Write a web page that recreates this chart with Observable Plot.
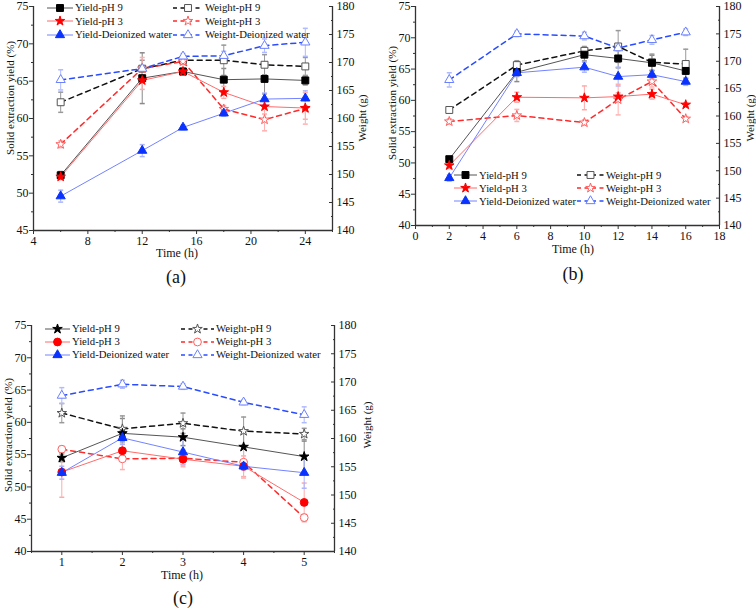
<!DOCTYPE html>
<html><head><meta charset="utf-8">
<script src="https://cdn.jsdelivr.net/npm/d3@7"></script>
<script src="https://cdn.jsdelivr.net/npm/@observablehq/plot@0.6"></script>
<style>
body{margin:0;background:#fff;}
#root{position:relative;width:756px;height:610px;font-family:"Liberation Serif","Times New Roman",serif;color:#111;overflow:hidden;}
.pl{position:absolute;}
.lbl{position:absolute;white-space:nowrap;transform:translate(-50%,-50%);line-height:1;}
.rot{transform:translate(-50%,-50%) rotate(-90deg);}
.leg{position:absolute;white-space:nowrap;font-size:10.7px;line-height:1;display:flex;align-items:center;transform:translateY(-50%);}
.leg svg{display:block;margin-right:2px;}
</style></head><body><div id="root"></div>
<script>
// ---------- shared ----------
const weightDomain = [140, 180];
const weightTicks = [140, 145, 150, 155, 160, 165, 170, 175, 180];
const weightMinor = [142.5, 147.5, 152.5, 157.5, 162.5, 167.5, 172.5, 177.5];
const seriesNames = ["Yield-pH 9", "Yield-pH 3", "Yield-Deionized water", "Weight-pH 9", "Weight-pH 3", "Weight-Deionized water"];

// ---------- panel (a) ----------
const timeA = [6, 12, 15, 18, 21, 24];
const yieldPH9A = [52.4, 65.4, 66.3, 65.2, 65.3, 65.1];
const yieldPH9AErr = [0.5, 3.4, 0.5, 1.5, 2.0, 0.6];
const yieldPH3A = [52.2, 65.1, 66.3, 63.5, 61.6, 61.4];
const yieldPH3AErr = [0.4, 1.2, 0.5, 0.8, 1.0, 1.5];
const yieldDIA = [49.6, 55.7, 58.8, 60.7, 62.6, 62.7];
const yieldDIAErr = [0.8, 0.8, 0.3, 0.4, 0.8, 1.0];
const weightPH9A = [162.9, 168.9, 170.4, 170.4, 169.6, 169.3];
const weightPH9AErr = [1.8, 1.5, 0.5, 2.7, 1.8, 1.6];
const weightPH3A = [155.4, 168.9, 170.2, 161.7, 159.8, 161.8];
const weightPH3AErr = [0.6, 2.0, 0.6, 0.6, 2.0, 2.8];
const weightDIA = [166.9, 168.9, 171.1, 171.2, 173.0, 173.6];
const weightDIAErr = [1.8, 0.5, 0.5, 0.8, 1.2, 2.5];
const xTicksA = [4, 8, 12, 16, 20, 24];
const xMinorA = [6, 10, 14, 18, 22, 26];
const yTicksA = [45, 50, 55, 60, 65, 70, 75];
const yMinorA = [47.5, 52.5, 57.5, 62.5, 67.5, 72.5];

// ---------- panel (b) ----------
const timeB = [2, 6, 10, 12, 14, 16];
const yieldPH9B = [50.6, 64.5, 67.3, 66.7, 66.0, 64.7];
const yieldPH9BErr = [0.3, 1.5, 1.0, 1.5, 1.2, 1.2];
const yieldPH3B = [49.6, 60.5, 60.4, 60.6, 61.0, 59.3];
const yieldPH3BErr = [0.5, 0.8, 1.9, 0.6, 0.8, 0.3];
const yieldDIB = [47.6, 64.4, 65.3, 63.8, 64.1, 63.0];
const yieldDIBErr = [0.5, 0.6, 0.8, 1.5, 0.6, 0.6];
const weightPH9B = [161.1, 169.3, 171.9, 172.7, 169.8, 169.5];
const weightPH9BErr = [0.4, 0.8, 0.8, 2.9, 1.5, 2.7];
const weightPH3B = [159.0, 160.1, 158.8, 163.0, 166.3, 159.5];
const weightPH3BErr = [0.5, 1.1, 0.5, 2.8, 1.0, 0.4];
const weightDIB = [166.6, 175.0, 174.6, 172.4, 173.9, 175.3];
const weightDIBErr = [1.3, 0.5, 0.7, 0.5, 0.8, 0.6];
const xTicksB = [0, 2, 4, 6, 8, 10, 12, 14, 16, 18];
const xMinorB = [1, 3, 5, 7, 9, 11, 13, 15, 17];
const yTicksB = [40, 45, 50, 55, 60, 65, 70, 75];
const yMinorB = [42.5, 47.5, 52.5, 57.5, 62.5, 67.5, 72.5];

// ---------- panel (c) ----------
const timeC = [1, 2, 3, 4, 5];
const yieldPH9C = [54.5, 58.3, 57.7, 56.2, 54.7];
const yieldPH9CErr = [0.6, 2.3, 1.3, 2.3, 2.4];
const yieldPH3C = [52.3, 55.6, 54.3, 53.2, 47.6];
const yieldPH3CErr = [3.9, 1.0, 0.8, 1.6, 3.0];
const yieldDIC = [52.2, 57.6, 55.4, 53.2, 52.2];
const yieldDICErr = [1.0, 1.0, 2.0, 0.6, 2.4];
const weightPH9C = [164.5, 161.7, 162.7, 161.3, 160.8];
const weightPH9CErr = [1.7, 2.3, 1.8, 2.5, 1.0];
const weightPH3C = [158.1, 156.4, 156.5, 155.8, 146.0];
const weightPH3CErr = [0.6, 1.9, 1.5, 2.8, 0.6];
const weightDIC = [167.6, 169.6, 169.2, 166.4, 164.2];
const weightDICErr = [1.4, 0.7, 0.5, 0.4, 1.4];
const xTicksC = [1, 2, 3, 4, 5];
const xMinorC = [0.5, 1.5, 2.5, 3.5, 4.5, 5.5];
const yTicksC = [40, 45, 50, 55, 60, 65, 70, 75];
const yMinorC = [42.5, 47.5, 52.5, 57.5, 62.5, 67.5, 72.5];

// ---------- styles ----------
const SYM = {square: d3.symbolSquare, star: d3.symbolStar, triangle: d3.symbolTriangle, circle: d3.symbolCircle};
const SYMR = {square: 3.9, star: 3.0, triangle: 3.4, circle: 3.9};
const styleYield = [
  {line: "#555", mark: "#000", errColor: "#8a8a8a"},
  {line: "#ff6b6b", mark: "#ff0000", errColor: "#ffaaaa"},
  {line: "#7383ff", mark: "#0a32ff", errColor: "#aab4ff"}
];
const styleWeight = [
  {line: "#111", mark: "#555", errColor: "#999"},
  {line: "#ff2a2a", mark: "#ff6060", errColor: "#ffb0b0"},
  {line: "#2a4cff", mark: "#6a80ff", errColor: "#b0baff"}
];
const capSymbol = {draw(ctx) { ctx.moveTo(-2.5, 0); ctx.lineTo(2.5, 0); }};

function makeSeries(yields, yErrs, weights, wErrs, ySyms, wSyms) {
  const out = [];
  for (let k = 0; k < 3; k++) out.push({...styleYield[k], name: seriesNames[k], values: yields[k], err: yErrs[k], weight: false, sym: ySyms[k]});
  for (let k = 0; k < 3; k++) out.push({...styleWeight[k], name: seriesNames[k + 3], values: weights[k], err: wErrs[k], weight: true, sym: wSyms[k]});
  return out;
}

const panels = [
  {
    id: "a", time: timeA, xDomain: [4, 26], yDomain: [45, 75], xTicks: xTicksA, xMinor: xMinorA, yTicks: yTicksA, yMinor: yMinorA,
    left: 0, top: 0, width: 380, height: 250, mt: 6, mb: 20, ml: 33, mr: 48,
    series: makeSeries([yieldPH9A, yieldPH3A, yieldDIA], [yieldPH9AErr, yieldPH3AErr, yieldDIAErr],
      [weightPH9A, weightPH3A, weightDIA], [weightPH9AErr, weightPH3AErr, weightDIAErr],
      ["square", "star", "triangle"], ["square", "star", "triangle"]),
    legend: {x1: 47, w1: 26, x2: 173, w2: 30, y0: 7.5, dy: 13.5},
    yTitle: [10, 98], wTitle: [362, 118], xTitle: [177, 253], tag: [176, 277]
  },
  {
    id: "b", time: timeB, xDomain: [0, 18], yDomain: [40, 75], xTicks: xTicksB, xMinor: xMinorB, yTicks: yTicksB, yMinor: yMinorB,
    left: 380, top: 0, width: 376, height: 245, mt: 6, mb: 20, ml: 35, mr: 37,
    series: makeSeries([yieldPH9B, yieldPH3B, yieldDIB], [yieldPH9BErr, yieldPH3BErr, yieldDIBErr],
      [weightPH9B, weightPH3B, weightDIB], [weightPH9BErr, weightPH3BErr, weightDIBErr],
      ["square", "star", "triangle"], ["square", "star", "triangle"]),
    legend: {x1: 454, w1: 23, x2: 577, w2: 27, y0: 175, dy: 13.2},
    yTitle: [392, 103], wTitle: [750, 118], xTitle: [573, 249], tag: [573, 274]
  },
  {
    id: "c", time: timeC, xDomain: [0.5, 5.5], yDomain: [40, 75], xTicks: xTicksC, xMinor: xMinorC, yTicks: yTicksC, yMinor: yMinorC,
    left: 0, top: 300, width: 380, height: 271, mt: 25, mb: 20, ml: 31, mr: 46,
    series: makeSeries([yieldPH9C, yieldPH3C, yieldDIC], [yieldPH9CErr, yieldPH3CErr, yieldDICErr],
      [weightPH9C, weightPH3C, weightDIC], [weightPH9CErr, weightPH3CErr, weightDICErr],
      ["star", "circle", "triangle"], ["star", "circle", "triangle"]),
    legend: {x1: 45, w1: 25, x2: 181, w2: 33, y0: 328.5, dy: 13},
    yTitle: [8, 435], wTitle: [367, 425], xTitle: [182, 575], tag: [183, 598]
  }
];

const root = document.getElementById("root");

function addLabel(text, pos, size, rotate) {
  const d = document.createElement("div");
  d.className = "lbl" + (rotate ? " rot" : "");
  d.style.left = pos[0] + "px";
  d.style.top = pos[1] + "px";
  d.style.fontSize = size + "px";
  d.textContent = text;
  root.appendChild(d);
}

function legendSample(s, w) {
  const ns = "http://www.w3.org/2000/svg";
  const svg = document.createElementNS(ns, "svg");
  svg.setAttribute("width", w); svg.setAttribute("height", 12);
  const line = document.createElementNS(ns, "line");
  line.setAttribute("x1", 0); line.setAttribute("x2", w);
  line.setAttribute("y1", 6); line.setAttribute("y2", 6);
  line.setAttribute("stroke", s.line);
  line.setAttribute("stroke-width", s.weight ? 1.5 : 1);
  if (s.weight) line.setAttribute("stroke-dasharray", "4,3.5");
  svg.appendChild(line);
  const p = document.createElementNS(ns, "path");
  const r = SYMR[s.sym];
  p.setAttribute("d", d3.symbol(SYM[s.sym], Math.PI * r * r)());
  p.setAttribute("transform", `translate(${w / 2},6)`);
  p.setAttribute("fill", s.weight ? "#fff" : s.mark);
  p.setAttribute("stroke", s.mark);
  p.setAttribute("stroke-width", 1);
  svg.appendChild(p);
  return svg;
}

for (const cfg of panels) {
  const [a, b] = cfg.yDomain;
  const conv = w => a + (w - weightDomain[0]) * (b - a) / (weightDomain[1] - weightDomain[0]);
  const back = y => weightDomain[0] + (y - a) * (weightDomain[1] - weightDomain[0]) / (b - a);
  const marks = [];
  // axis lines
  marks.push(Plot.ruleX(cfg.xDomain, {stroke: "#333", strokeWidth: 1.3}));
  marks.push(Plot.ruleY([cfg.yDomain[0]], {stroke: "#333", strokeWidth: 1.3}));
  // axes
  marks.push(Plot.axisX({ticks: cfg.xTicks, tickSize: 4, tickPadding: 2, tickFormat: d => String(d), label: null, stroke: "#333"}));
  marks.push(Plot.axisX({ticks: cfg.xMinor, tickSize: 2, tickFormat: () => "", label: null, stroke: "#333"}));
  marks.push(Plot.axisY({anchor: "left", ticks: cfg.yTicks, tickSize: 4, tickPadding: 1, tickFormat: d => String(d), label: null, stroke: "#333"}));
  marks.push(Plot.axisY({anchor: "left", ticks: cfg.yMinor, tickSize: 2, tickFormat: () => "", label: null, stroke: "#333"}));
  const wT = weightTicks.map(conv);
  marks.push(Plot.axisY({anchor: "right", ticks: wT, tickSize: -4, tickFormat: () => "", label: null, stroke: "#333"}));
  marks.push(Plot.axisY({anchor: "right", ticks: weightMinor.map(conv), tickSize: -2, tickFormat: () => "", label: null, stroke: "#333"}));
  marks.push(Plot.axisY({anchor: "right", ticks: wT, tickSize: 0, tickPadding: 4, tickFormat: d => String(Math.round(back(d))), label: null}));

  const datas = cfg.series.map(s => cfg.time.map((t, i) => {
    const f = s.weight ? conv : (v => v);
    return {t, v: f(s.values[i]), lo: f(s.values[i] - s.err[i]), hi: f(s.values[i] + s.err[i])};
  }));
  // error bars
  cfg.series.forEach((s, k) => {
    marks.push(Plot.ruleX(datas[k], {x: "t", y1: "lo", y2: "hi", stroke: s.errColor, strokeWidth: 1}));
    marks.push(Plot.dot(datas[k], {x: "t", y: "lo", symbol: capSymbol, fill: "none", stroke: s.errColor, r: 3}));
    marks.push(Plot.dot(datas[k], {x: "t", y: "hi", symbol: capSymbol, fill: "none", stroke: s.errColor, r: 3}));
  });
  // lines (weights first, yields on top)
  [3, 4, 5, 0, 1, 2].forEach(k => {
    const s = cfg.series[k];
    marks.push(Plot.line(datas[k], {x: "t", y: "v", stroke: s.line, strokeWidth: s.weight ? 1.5 : 1,
      strokeDasharray: s.weight ? "5,4" : null}));
  });
  // markers
  [3, 4, 5, 0, 1, 2].forEach(k => {
    const s = cfg.series[k];
    marks.push(Plot.dot(datas[k], {x: "t", y: "v", symbol: SYM[s.sym], r: SYMR[s.sym],
      fill: s.weight ? "#fff" : s.mark, stroke: s.mark, strokeWidth: 1}));
  });

  const svg = Plot.plot({
    width: cfg.width, height: cfg.height,
    marginTop: cfg.mt, marginBottom: cfg.mb, marginLeft: cfg.ml, marginRight: cfg.mr,
    x: {domain: cfg.xDomain},
    y: {domain: cfg.yDomain},
    style: {fontFamily: "'Liberation Serif', 'Times New Roman', serif", fontSize: "12px", color: "#111", background: "transparent", overflow: "visible"},
    marks
  });
  const holder = document.createElement("div");
  holder.className = "pl";
  holder.style.left = cfg.left + "px";
  holder.style.top = cfg.top + "px";
  holder.appendChild(svg);
  root.appendChild(holder);

  // legend
  cfg.series.forEach((s, k) => {
    const col = k < 3 ? 0 : 1;
    const row = k % 3;
    const d = document.createElement("div");
    d.className = "leg";
    d.style.left = (col === 0 ? cfg.legend.x1 : cfg.legend.x2) + "px";
    d.style.top = (cfg.legend.y0 + row * cfg.legend.dy) + "px";
    d.appendChild(legendSample(s, col === 0 ? cfg.legend.w1 : cfg.legend.w2));
    const span = document.createElement("span");
    span.textContent = s.name;
    d.appendChild(span);
    root.appendChild(d);
  });

  addLabel("Solid extraction yield (%)", cfg.yTitle, 11, true);
  addLabel("Weight (g)", cfg.wTitle, 11, true);
  addLabel("Time (h)", cfg.xTitle, 12, false);
  addLabel("(" + cfg.id + ")", cfg.tag, 18, false);
}
</script>
</body></html>
